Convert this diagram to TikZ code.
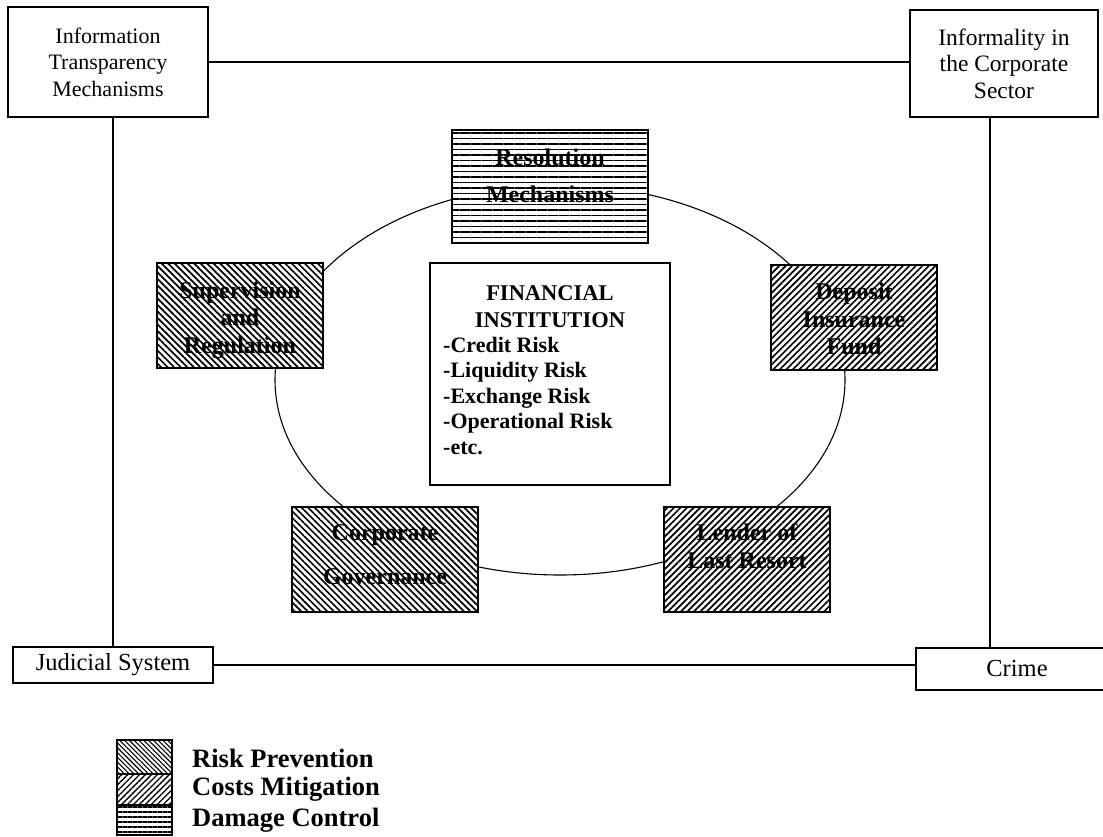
\documentclass[tikz,border=0pt]{standalone}
\usepackage{fontspec}
\setmainfont{Liberation Serif}
\usetikzlibrary{patterns.meta}

\tikzset{
  plainbox/.style={draw, line width=1.1pt, fill=white, inner sep=0pt, align=center,
    font=\fontsize{22}{26.5}\selectfont},
  shadebox/.style={draw, line width=1.4pt, inner sep=0pt, minimum width=166pt, minimum height=105pt,
    preaction={fill=white}},
  prevent/.style={shadebox, pattern={Lines[angle=-45,distance=4.6pt,line width=1.7pt]}},
  mitigate/.style={shadebox, pattern={Lines[angle=45,distance=4.6pt,line width=1.7pt]}},
  damage/.style={shadebox, pattern={Lines[angle=0,distance=5.5pt,line width=1.6pt]}},
  boxtext/.style={align=center, font=\bfseries\fontsize{24}{27.5}\selectfont},
  link/.style={line width=1.1pt},
  legendtext/.style={anchor=west, inner sep=0pt, font=\bfseries\fontsize{26.5}{30}\selectfont}
}

\begin{document}
\begin{tikzpicture}[x=1pt, y=-1pt]
  \useasboundingbox[fill=white] (0,0) rectangle (1103,837);

  % outer ring of institutional factors
  \node[plainbox, minimum width=200pt, minimum height=110pt] (info) at (108,62)
    {Information\\Transparency\\Mechanisms};
  \node[plainbox, minimum width=188pt, minimum height=107pt, font=\fontsize{23.5}{26.5}\selectfont] (informal) at (1004,63.5)
    {Informality in\\the Corporate\\Sector};
  \node[plainbox, minimum width=200pt, minimum height=36pt, font=\fontsize{24.5}{26.5}\selectfont] (judicial) at (113,665)
    {Judicial System};
  \node[plainbox, minimum width=202pt, minimum height=42pt, font=\fontsize{24.5}{26.5}\selectfont] (crime) at (1017,669)
    {Crime};

  \draw[link] (info.east) -- (info.east -| informal.west);
  \draw[link] (judicial.north) -- (judicial.north |- info.south);
  \draw[link] ([xshift=-14pt]informal.south) -- ([xshift=-14pt]informal.south |- crime.north);
  \draw[link] (judicial.east) -- (judicial.east -| crime.west);

  % safety net ring
  \draw[link] (560,380) ellipse [x radius=285, y radius=195];

  % safety net components
  \node[damage, minimum width=196pt, minimum height=113pt] (resolution) at (550,186.5) {};
  \node[boxtext] (resolutiontext) at (550,176) {Resolution\\[10pt]Mechanisms};

  \node[prevent] (supervision) at (240,315.5) {};
  \node[boxtext] (supervisiontext) at (240,320) {Supervision\\and\\Regulation};

  \node[mitigate] (deposit) at (854,317.5) {};
  \node[boxtext] (deposittext) at (854,319) {Deposit\\Insurance\\Fund};

  \node[prevent, minimum width=186pt] (governance) at (385,559.5) {};
  \node[boxtext] (governancetext) at (385,554.5) {Corporate\\[17pt]Governance};

  \node[mitigate] (lender) at (747,559.5) {};
  \node[boxtext] (lendertext) at (747,546) {Lender of\\Last Resort};

  % the institution in the centre
  \node[draw, line width=1.3pt, fill=white, minimum width=240pt, minimum height=222pt] (fin) at (550,374) {};
  \node[align=center, font=\bfseries\fontsize{22.5}{27}\selectfont] (fintitle) at (550,306.5)
    {FINANCIAL\\INSTITUTION};
  \node[anchor=north west, inner sep=0pt, align=left, font=\bfseries\fontsize{22}{25.5}\selectfont] (risks) at (443,337)
    {-Credit Risk\\-Liquidity Risk\\-Exchange Risk\\-Operational Risk\\-etc.};

  % legend
  \node[draw, line width=1.2pt, inner sep=0pt, minimum width=55pt, minimum height=34pt,
    preaction={fill=white}, pattern={Lines[angle=-45,distance=3.4pt,line width=1.1pt]}] (keyprev) at (144.5,757) {};
  \node[draw, line width=1.2pt, inner sep=0pt, minimum width=55pt, minimum height=31pt,
    preaction={fill=white}, pattern={Lines[angle=45,distance=4.2pt,line width=1.3pt]}] (keymit) at (144.5,789.5) {};
  \node[draw, line width=1.2pt, inner sep=0pt, minimum width=55pt, minimum height=30pt,
    preaction={fill=white}, pattern={Lines[angle=0,distance=5pt,line width=1.3pt]}] (keydam) at (144.5,820) {};
  \node[legendtext] (keyprevtext) at (192,758) {Risk Prevention};
  \node[legendtext] (keymittext) at (192,789) {Costs Mitigation};
  \node[legendtext] (keydamtext) at (192,820) {Damage Control};
\end{tikzpicture}
\end{document}
